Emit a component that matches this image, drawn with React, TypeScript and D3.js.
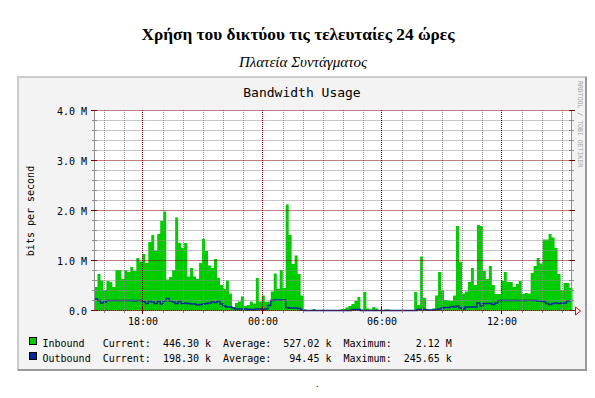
import React from 'react';
import * as d3 from 'd3';

// inbound / outbound traffic, Mbit/s, one sample every 9 minutes starting 15:32:30
const inbound = [
  0.47, 0.73, 0.6, 0.41, 0.59, 0.57, 0.47, 0.81, 0.81, 0.63,
  0.81, 0.77, 0.87, 0.79, 1.05, 0.98, 1.13, 0.95, 1.37, 1.51,
  1.2, 1.53, 1.79, 1.98, 0.62, 0.67, 0.81, 1.86, 1.35, 1.25,
  1.35, 0.68, 0.85, 0.68, 0.63, 0.95, 1.43, 1.19, 0.9, 0.85,
  1.03, 0.65, 0.51, 0.43, 0.6, 0.34, 0.07, 0.15, 0.18, 0.28,
  0.09, 0.11, 0.18, 0.14, 0.65, 0.18, 0.3, 0.17, 0.18, 0.38,
  0.74, 0.43, 0.81, 0.45, 2.12, 1.51, 0.93, 1.1, 0.73, 0.3,
  0.02, 0, 0, 0.03, 0, 0, 0, 0, 0, 0,
  0, 0.01, 0.02, 0.03, 0.06, 0.09, 0.13, 0.19, 0.27, 0.02,
  0.37, 0.04, 0.02, 0.07, 0.04, 0, 0, 0.02, 0.02, 0,
  0, 0, 0, 0, 0.01, 0, 0, 0.37, 0.11, 1.08,
  0.25, 0.02, 0.01, 0.04, 0.3, 0.77, 0.4, 0.21, 0.2, 0.19,
  0.3, 1.69, 0.97, 0.34, 0.38, 0.57, 0.85, 0.51, 1.71, 1.69,
  0.79, 0.63, 0.89, 0.51, 0.33, 0.33, 0.59, 0.77, 0.57, 0.57,
  0.47, 0.53, 0.59, 0.33, 0.35, 0.34, 0.75, 0.89, 1.05, 0.94,
  1.42, 1.42, 1.53, 1.46, 1.25, 0.73, 0.41, 0.55, 0.55, 0.45,
];

const outbound = [
  0.23, 0.2, 0.15, 0.17, 0.2, 0.2, 0.2, 0.2, 0.2, 0.2,
  0.2, 0.2, 0.2, 0.19, 0.2, 0.2, 0.18, 0.14, 0.19, 0.17,
  0.14, 0.18, 0.13, 0.19, 0.24, 0.19, 0.17, 0.14, 0.18, 0.14,
  0.15, 0.14, 0.13, 0.13, 0.11, 0.12, 0.13, 0.14, 0.15, 0.17,
  0.16, 0.19, 0.13, 0.09, 0.07, 0.07, 0.05, 0.03, 0.03, 0.03,
  0.03, 0.02, 0.02, 0.02, 0.03, 0.03, 0.02, 0.03, 0.1, 0.2,
  0.21, 0.21, 0.21, 0.21, 0.06, 0.05, 0.05, 0.05, 0.04, 0.01,
  0, 0, 0, 0, 0, 0, 0, 0, 0, 0,
  0, 0, 0, 0, 0, 0, 0.02, 0.02, 0.02, 0,
  0, 0, 0, 0, 0, 0, 0, 0, 0, 0,
  0, 0, 0, 0, 0, 0, 0, 0, 0.02, 0.02,
  0.02, 0.01, 0.01, 0.01, 0.02, 0.03, 0.05, 0.06, 0.06, 0.08,
  0.07, 0.09, 0.05, 0.03, 0.07, 0.07, 0.07, 0.07, 0.15, 0.09,
  0.14, 0.14, 0.14, 0.12, 0.15, 0.2, 0.2, 0.2, 0.2, 0.2,
  0.2, 0.2, 0.2, 0.2, 0.2, 0.2, 0.2, 0.2, 0.19, 0.19,
  0.18, 0.14, 0.12, 0.14, 0.15, 0.14, 0.15, 0.15, 0.19, 0.2,
];

const yTicks = [0, 1, 2, 3, 4];
const yTickLabels = ['0.0', '1.0 M', '2.0 M', '3.0 M', '4.0 M'];

const seriesNames = ['Inbound', 'Outbound'];
const seriesColors = ['#00cc00', '#002a97'];
const currentVals = ['446.30 k', '198.30 k'];
const averageVals = ['527.02 k', '94.45 k'];
const maximumVals = ['2.12 M', '245.65 k'];

const start = new Date(2000, 0, 1, 15, 32, 30);
const stepMin = 9;
const end = new Date(start.getTime() + inbound.length * stepMin * 60000);
const timeAt = (i: number) => new Date(start.getTime() + i * stepMin * 60000);

const mono = '"DejaVu Sans Mono", monospace';
const MAJOR = '#800000';
const MINOR = '#8c8c8c';

export default function App() {
  const x = d3.scaleTime().domain([start, end]).range([94.5, 572.5]);
  const y = d3.scaleLinear().domain([0, 4]).range([310.5, 110.5]);

  const inArea = d3.area<number>()
    .x((d, i) => x(timeAt(i)))
    .y0(y(0))
    .y1(d => y(d))
    .curve(d3.curveStepAfter);
  const outLine = d3.line<number>()
    .x((d, i) => x(timeAt(i)))
    .y(d => y(d))
    .curve(d3.curveStepAfter);

  const inData = [...inbound, inbound[inbound.length - 1]];
  const outData = [...outbound, outbound[outbound.length - 1]];

  const hours = x.ticks(d3.timeHour.every(1)!);
  const majorHours = hours.filter(h => h.getHours() % 6 === 0);
  const minorHours = hours.filter(h => h.getHours() % 6 !== 0);
  const minorY = d3.range(0.2, 4, 0.2).filter(v => Math.abs(v - Math.round(v)) > 0.01);
  const fmt = d3.timeFormat('%H:%M');

  const left = 94.5;
  const right = 571.5;
  const cw = 6.02;
  const lx = 42.5;

  return (
    <svg width={595} height={398} style={{ position: 'absolute', left: 0, top: 0 }}>
      <rect x={0} y={0} width={595} height={398} fill="#ffffff" />
      <text x={298} y={40} textAnchor="middle" fontFamily='"Liberation Serif", serif' fontWeight="bold" fontSize={17.3}>
        Χρήση του δικτύου τις τελευταίες 24 ώρες
      </text>
      <text x={303} y={67} textAnchor="middle" fontFamily='"Liberation Serif", serif' fontStyle="italic" fontSize={15}>
        Πλατεία Συντάγματος
      </text>

      {/* rrd image frame */}
      <rect x={17} y={76} width={570} height={295} fill="#f3f3f3" />
      <path d="M18,371V77H587" fill="none" stroke="#cbcbcb" strokeWidth={2} />
      <path d="M18,370H586V77" fill="none" stroke="#999999" strokeWidth={2} />

      <text x={302} y={97} textAnchor="middle" fontFamily={mono} fontSize={13}>Bandwidth Usage</text>
      <text x={578} y={81} transform="rotate(90,578,81)" fontFamily={mono} fontSize={6.5} fill="#a0a0a0">
        RRDTOOL / TOBI OETIKER
      </text>

      <rect x={94} y={110} width={478} height={201} fill="#ffffff" />

      <path d={inArea(inData) || ''} fill="#00cc00" />
      <path d={outLine(outData) || ''} fill="none" stroke="#002a97" strokeWidth={1.4} />

      {/* grid */}
      {minorY.map(v => (
        <g key={'my' + v}>
          <line x1={left} x2={right} y1={y(v)} y2={y(v)} stroke={MINOR} strokeDasharray="1,1" />
          <line x1={92} x2={97} y1={y(v)} y2={y(v)} stroke={MINOR} />
          <line x1={569} x2={574} y1={y(v)} y2={y(v)} stroke={MINOR} />
        </g>
      ))}
      {minorHours.map(h => (
        <g key={'mx' + h.getTime()}>
          <line x1={Math.round(x(h)) + 0.5} x2={Math.round(x(h)) + 0.5} y1={110} y2={311} stroke={MINOR} strokeDasharray="1,1" />
          <line x1={Math.round(x(h)) + 0.5} x2={Math.round(x(h)) + 0.5} y1={308} y2={313} stroke={MINOR} />
        </g>
      ))}
      {majorHours.map(h => (
        <g key={'Mx' + h.getTime()}>
          <line x1={Math.round(x(h)) - 0.5} x2={Math.round(x(h)) - 0.5} y1={110} y2={311} stroke={MAJOR} strokeDasharray="1,1" />
          <line x1={Math.round(x(h)) - 0.5} x2={Math.round(x(h)) - 0.5} y1={307} y2={314} stroke={MAJOR} />
          <text x={Math.round(x(h))} y={325} textAnchor="middle" fontFamily={mono} fontSize={10}>{fmt(h)}</text>
        </g>
      ))}
      <line x1={left} x2={left} y1={110} y2={311} stroke="#909090" />
      <line x1={right} x2={right} y1={110} y2={311} stroke="#909090" />
      {yTicks.map((v, i) => (
        <g key={'My' + v}>
          <line x1={left} x2={right} y1={y(v)} y2={y(v)} stroke={MAJOR} strokeDasharray="1,1" />
          <line x1={91} x2={97} y1={y(v)} y2={y(v)} stroke={MAJOR} />
          <line x1={569} x2={575} y1={y(v)} y2={y(v)} stroke={MAJOR} />
          <text x={87} y={y(v) + 4.5} textAnchor="end" fontFamily={mono} fontSize={10}>{yTickLabels[i]}</text>
        </g>
      ))}
      <line x1={91} x2={576} y1={y(0)} y2={y(0)} stroke="#b00000" strokeDasharray="1,1" />
      <path d={`M575.5,307V315L580.5,311Z`} fill="none" stroke="#ff0000" />

      <text x={34} y={211} transform="rotate(-90,34,211)" textAnchor="middle" fontFamily={mono} fontSize={10}>
        bits per second
      </text>

      {/* legend */}
      {seriesNames.map((name, i) => {
        const by = 346.5 + i * 15;
        return (
          <g key={name} fontFamily={mono} fontSize={10}>
            <rect x={29.5} y={by - 9} width={7} height={7} fill={seriesColors[i]} stroke="#000" />
            <text x={lx} y={by}>{name}</text>
            <text x={lx + cw * 10} y={by}>Current:</text>
            <text x={lx + cw * 28} y={by} textAnchor="end">{currentVals[i]}</text>
            <text x={lx + cw * 30} y={by}>Average:</text>
            <text x={lx + cw * 48} y={by} textAnchor="end">{averageVals[i]}</text>
            <text x={lx + cw * 50} y={by}>Maximum:</text>
            <text x={lx + cw * 68} y={by} textAnchor="end">{maximumVals[i]}</text>
          </g>
        );
      })}

      <text x={316} y={387} fontFamily='"Liberation Serif", serif' fontSize={10}>.</text>
    </svg>
  );
}
